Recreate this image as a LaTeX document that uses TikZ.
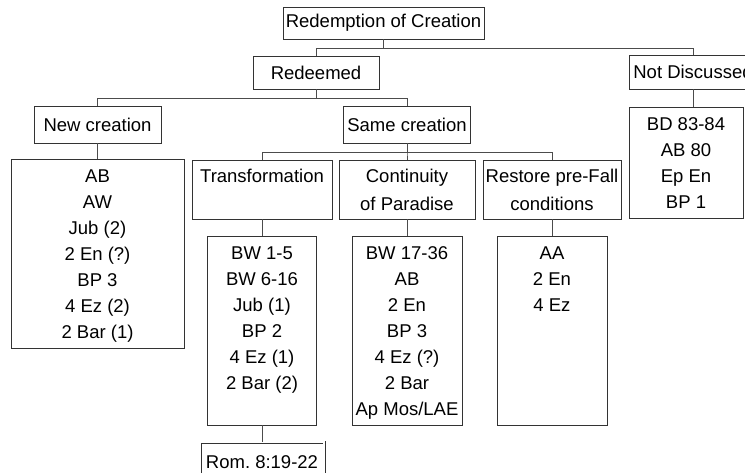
\documentclass[tikz,border=0pt]{standalone}
\usepackage{fontspec}
\setmainfont{Liberation Sans}
\usepackage{tikz}
\newcommand{\reflist}[3]{\parbox[c][#1][t]{#2}{\centering\vspace*{5pt}\strut#3}}

\begin{document}
\begin{tikzpicture}[x=1pt, y=-1pt, line width=0.8pt]
   \useasboundingbox (0,0) rectangle (745,473);
   \clip (0,0) rectangle (745,473);
   \begin{scope}[every node/.style={draw=black!80, inner sep=0pt, font=\fontsize{18.5}{26}\selectfont}]
    \node (top) [minimum width=201, minimum height=32] at (383.5,23) {Redemption of Creation};
    \node (redeemed) [minimum width=126, minimum height=33] at (316,72.5) {Redeemed};
    \node (notdisc) [minimum width=128, minimum height=34] at (693,72) {Not Discussed};
    \node (newcr) [minimum width=127, minimum height=37] at (97.5,124.5) {New creation};
    \node (samecr) [minimum width=127, minimum height=37] at (407,124.5) {Same creation};
   \end{scope}
   \begin{scope}[every node/.style={draw=black!80, inner sep=0pt, align=center, minimum height=59, font=\fontsize{18.5}{28}\selectfont}]
    \node (transf) [minimum width=140] at (262,189.5) {Transformation\\\mbox{}};
    \node (contin) [minimum width=136] at (407,189.5) {Continuity\\of Paradise};
    \node (restore) [minimum width=138] at (552,189.5) {Restore pre-Fall\\conditions};
   \end{scope}
   \begin{scope}[every node/.style={draw=black!80, inner sep=0pt, font=\fontsize{18.5}{26}\selectfont}]
    \node (ndlist) at (686,162.5) {\reflist{111pt}{114pt}{BD 83-84\\AB 80\\Ep En\\BP 1}};
    \node (newlist) at (97.5,253.5) {\reflist{189pt}{173pt}{AB\\AW\\Jub (2)\\2 En (?)\\BP 3\\4 Ez (2)\\2 Bar (1)}};
    \node (translist) at (262,330.5) {\reflist{189pt}{109pt}{BW 1-5\\BW 6-16\\Jub (1)\\BP 2\\4 Ez (1)\\2 Bar (2)}};
    \node (contlist) at (407,330.5) {\reflist{189pt}{110pt}{BW 17-36\\AB\\2 En\\BP 3\\4 Ez (?)\\2 Bar\\Ap Mos/LAE}};
    \node (restlist) at (552,330.5) {\reflist{189pt}{110pt}{AA\\2 En\\4 Ez}};
    \node (rom) [double, double distance=1.6pt, line width=0.7pt, minimum width=124, minimum height=40, inner xsep=1pt] at (262,462) {Rom.\ 8:19-22};
   \end{scope}
   \begin{scope}[draw=black!70]
    \draw (top.south) -- ++(0,9) -| (redeemed.north);
    \draw (top.south) -- ++(0,9) -| (notdisc.north);
    \draw (redeemed.south) -- ++(0,9) -| (newcr.north);
    \draw (redeemed.south) -- ++(0,9) -| (samecr.north);
    \draw (samecr.south) -- ++(0,9) -| (transf.north);
    \draw (samecr.south) -- ++(0,9) -| (contin.north);
    \draw (samecr.south) -- ++(0,9) -| (restore.north);
    \draw (notdisc.south) -- (notdisc.south |- ndlist.north);
    \draw (newcr) -- (newlist);
    \draw (transf) -- (translist);
    \draw (contin) -- (contlist);
    \draw (restore) -- (restlist);
    \draw (translist) -- (rom);
   \end{scope}
\end{tikzpicture}
\end{document}
